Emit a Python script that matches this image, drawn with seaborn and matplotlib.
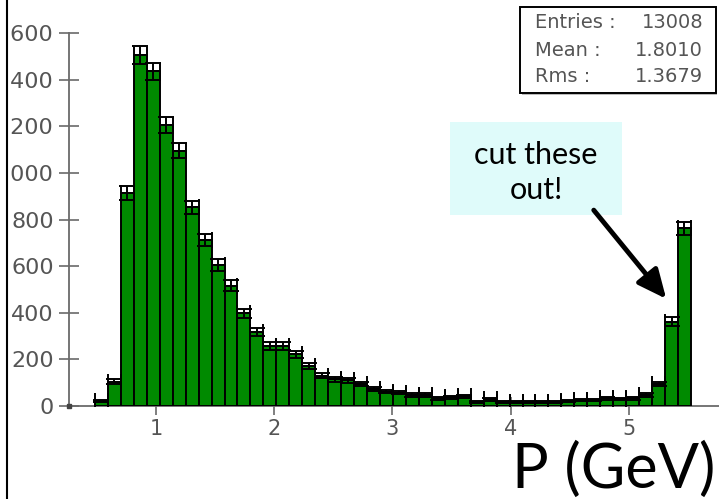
import numpy as np
import pandas as pd
import matplotlib.pyplot as plt
import seaborn as sns
from matplotlib.patches import Rectangle, FancyArrowPatch
from matplotlib.lines import Line2D

# histogram contents (46 bins)
counts = [20, 105, 915, 1505, 1435, 1205, 1095, 852, 712, 604,
          516, 398, 316, 257, 257, 222, 170, 130, 114, 111,
          94, 74, 62, 57, 47, 47, 33, 38, 42, 18,
          28, 18, 17, 17, 17, 16, 20, 26, 26, 33,
          30, 33, 47, 94, 362, 762]
p_low, p_high = 0.484, 5.524
x_ticks = [1, 2, 3, 4, 5]
y_ticks = [0, 200, 400, 600, 800, 1000, 1200, 1400, 1600]
stats_labels = ["Entries :", "Mean :", "Rms :"]
stats_values = ["13008", "1.8010", "1.3679"]
note_lines = ["cut these", "out!"]
x_title = "P (GeV)"

edges = np.linspace(p_low, p_high, len(counts) + 1)
df = pd.DataFrame({"p": (edges[:-1] + edges[1:]) / 2, "n": counts})
df["err"] = np.sqrt(df["n"])

W, H = 719, 499
def fx(px):
    return px / W
def fy(py):
    return 1 - py / H

sns.set_style("white")
fig = plt.figure(figsize=(W / 100, H / 100), dpi=100)
ax = fig.add_axes([fx(69), fy(406), 1 - fx(69), fy(33) - fy(406)])

sns.histplot(data=df, x="p", weights="n", bins=list(edges), color="#008a00",
             edgecolor="black", linewidth=1.4, alpha=1, ax=ax, zorder=3)
ax.errorbar(df["p"], df["n"], yerr=df["err"], xerr=(edges[1] - edges[0]) / 2,
            fmt="none", ecolor="black", elinewidth=1.4, capsize=6, capthick=1.4,
            zorder=4)

xmin = 1 + (69 - 156) / 118.25
xmax = 1 + (719 - 156) / 118.25
ax.set_xlim(xmin, xmax)
ax.set_ylim(0, 1600)
ax.set_xticks(x_ticks)
ax.set_yticks(y_ticks)
ax.set_xlabel("")
ax.set_ylabel("")
ax.set_axisbelow(True)
for s in ["top", "right"]:
    ax.spines[s].set_visible(False)
for s in ["left", "bottom"]:
    ax.spines[s].set_color("#6a6a6a")
    ax.spines[s].set_linewidth(1.3)
ax.tick_params(axis="y", left=True, direction="inout", length=14, width=1.2,
               color="#6a6a6a", labelsize=16, labelcolor="#555555", pad=4)
ax.tick_params(axis="x", bottom=True, direction="inout", length=13, width=1.2,
               color="#6a6a6a", labelsize=15, labelcolor="#555555", pad=3)
ax.plot([xmin], [0], marker="s", ms=3.5, color="#444444", clip_on=False, zorder=6)

# left crop of the slide
fig.patches.append(Rectangle((0, 0), fx(10.5), 1, transform=fig.transFigure,
                             facecolor="white", edgecolor="none", zorder=10))
fig.add_artist(Line2D([fx(7), fx(7)], [0, 1], color="black", lw=1.5, zorder=11))

# stats box
fig.patches.append(Rectangle((fx(522), fy(95)), fx(717) - fx(522), fy(9) - fy(95),
                             transform=fig.transFigure, facecolor="#bbbbbb",
                             edgecolor="none", zorder=7))
fig.patches.append(Rectangle((fx(520), fy(93)), fx(716) - fx(520), fy(7) - fy(93),
                             transform=fig.transFigure, facecolor="white",
                             edgecolor="black", lw=1.4, zorder=8))
for i, (lab, val) in enumerate(zip(stats_labels, stats_values)):
    yy = fy(23 + 27 * i)
    fig.text(fx(535), yy, lab, ha="left", va="center", fontsize=14,
             color="#555555", zorder=9)
    fig.text(fx(703), yy, val, ha="right", va="center", fontsize=14,
             color="#555555", zorder=9)

# note box
fig.patches.append(Rectangle((fx(450), fy(215)), fx(622) - fx(450), fy(122) - fy(215),
                             transform=fig.transFigure, facecolor="#dffbfa",
                             edgecolor="none", zorder=7))
fig.text(fx(536), fy(155), note_lines[0], ha="center", va="center", fontsize=22,
         family="Lato", color="black", zorder=9)
fig.text(fx(536), fy(190), note_lines[1], ha="center", va="center", fontsize=22,
         family="Lato", color="black", zorder=9)

arrow = FancyArrowPatch((fx(592), fy(208)), (fx(668), fy(301)), transform=fig.transFigure,
                        arrowstyle="-|>,head_length=1.75,head_width=0.8",
                        mutation_scale=10, lw=3.5, color="black", zorder=9)
fig.patches.append(arrow)

fig.text(fx(715), fy(488), x_title, ha="right", va="baseline", fontsize=44,
         family="Lato", color="black", zorder=9)

fig.savefig("out.png", dpi=100)
